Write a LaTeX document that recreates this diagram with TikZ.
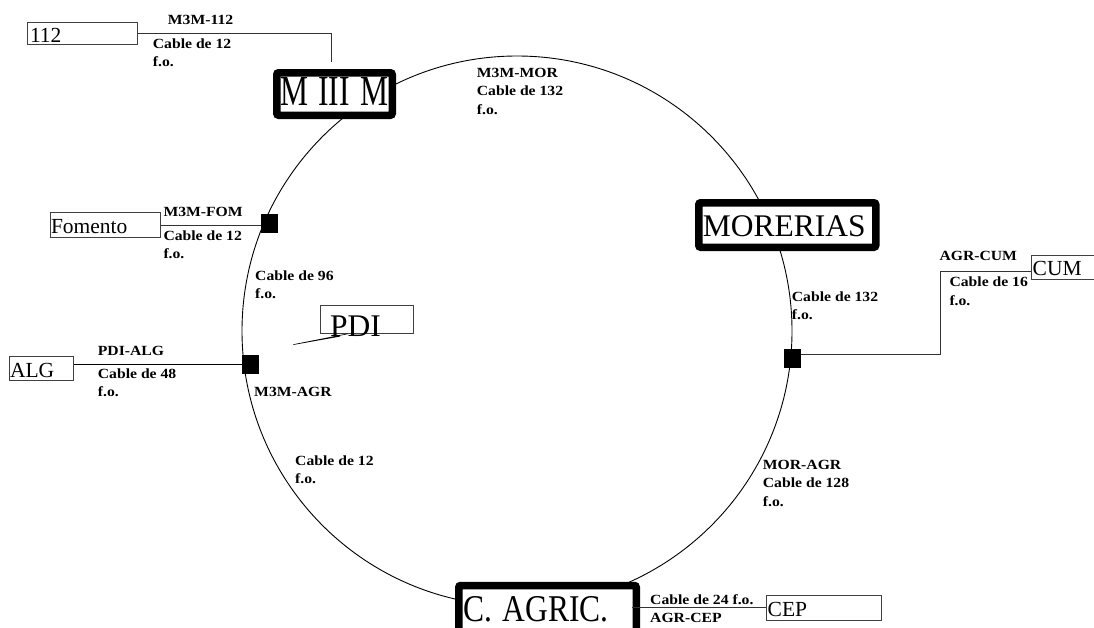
\documentclass[tikz,border=0pt]{standalone}
\usepackage{fontspec}
\setmainfont{Liberation Serif}
\newfontfamily\lblfont[FakeStretch=1.12]{Liberation Serif}
\newcommand{\ml}[1]{\begin{tabular}[t]{@{}l@{}}#1\end{tabular}}
\begin{document}
\begin{tikzpicture}[x=1pt,y=-1pt,
  ring/.style={line width=0.9pt},
  bigbox/.style={draw, line width=7.5pt, rounded corners=2pt, fill=white, inner sep=0pt, align=left, text depth=0pt, font=\fontsize{31.5}{36}\selectfont},
  smallbox/.style={draw=black!75, line width=0.9pt, fill=white, inner sep=0pt, align=left, text depth=0pt, font=\fontsize{21.5}{25}\selectfont},
  sqnode/.style={fill=black, inner sep=0pt, minimum width=17pt, minimum height=19pt},
  lbl/.style={inner sep=0pt, anchor=base west, font=\lblfont\bfseries\fontsize{14}{18.5}\selectfont},
  conn/.style={draw=black!80, line width=0.9pt},
]
\useasboundingbox (0,0) rectangle (1094,627);
\fill[white] (0,0) rectangle (1094,627);

% ring
\draw[ring] (517,331) circle[radius=275];

% main stations
\node[bigbox, minimum width=115.5pt, minimum height=42.5pt, text width=109pt, text height=23.4pt] (m3m) at (334.5,94) {\scalebox{1}[1.36]{M III M}};
\node[bigbox, minimum width=177pt, minimum height=44.5pt, text width=169pt, text height=23.4pt] (mor) at (787.25,225) {MORERIAS};
\node[bigbox, minimum width=177.5pt, minimum height=47pt, text width=168.4pt, text height=25.4pt] (agr) at (547.5,609) {\scalebox{1}[1.2]{C. AGRIC.}};

% PDI
\node[smallbox, font=\fontsize{31.5}{36}\selectfont, minimum width=92.6pt, minimum height=28.3pt, text width=74pt, text height=28pt] (pdi) at (367,319.15) {\raisebox{-3.55pt}{PDI}};

% small boxes
\node[smallbox, minimum width=110pt, minimum height=22.5pt, text width=104pt, text height=18.1pt] (b112) at (82,33.25) {112};
\node[smallbox, minimum width=110.7pt, minimum height=24.6pt, text width=108.7pt, text height=16.6pt] (fom) at (105.35,225) {Fomento};
\node[smallbox, minimum width=64.3pt, minimum height=24.7pt, text width=62.3pt, text height=17.9pt] (alg) at (41.15,368.35) {ALG};
\node[smallbox, minimum width=65.3pt, minimum height=24.3pt, text width=63.3pt, text height=15.7pt] (cum) at (1064.35,267.15) {CUM};
\node[smallbox, minimum width=115pt, minimum height=24.3pt, text width=113pt, text height=17.7pt] (cep) at (824.2,607.85) {CEP};

% splice squares
\node[sqnode] (sqf) at (269.5,223.7) {};
\node[sqnode] (sqa) at (250.3,364.5) {};
\node[sqnode] (sqc) at (792.3,358.8) {};

% connectors
\coordinate (c112) at (331,61.7);
\draw[conn] (b112.east) -| (c112);
\draw[conn] (fom.east) -- (fom.east -| sqf.west);
\draw[conn, draw=black] (sqa.west) -- (sqa.west -| alg.east);
\coordinate (ccum) at (940.7,271.7);
\draw[conn] ([yshift=4.8pt]sqc.east) -| (ccum) -- (ccum -| cum.west);
\draw[conn] ([xshift=-8pt]agr.east |- cep.west) -- (cep.west);
\coordinate (cpdi) at (293.3,344.6);
\draw[line width=0.6pt] (cpdi) -- ([xshift=-19pt]pdi.south)
                        (cpdi) -- ([shift={(-27pt,-2.5pt)}]pdi.south);

% labels
\node[lbl] (l112a) at (167.7,24) {M3M-112};
\node[lbl] (l112b) at (152.7,48) {\ml{Cable de 12\\f.o.}};
\node[lbl] (lmor) at (476.7,77.3) {\ml{M3M-MOR\\Cable de 132\\f.o.}};
\node[lbl] (lfoma) at (163.3,216.7) {M3M-FOM};
\node[lbl] (lfomb) at (163.3,240) {\ml{Cable de 12\\f.o.}};
\node[lbl] (l96) at (255,280) {\ml{Cable de 96\\f.o.}};
\node[lbl] (lalga) at (97.7,355) {PDI-ALG};
\node[lbl] (lalgb) at (97.7,378.3) {\ml{Cable de 48\\f.o.}};
\node[lbl] (lm3magr) at (254,396.7) {M3M-AGR};
\node[lbl] (l12) at (295,465) {\ml{Cable de 12\\f.o.}};
\node[lbl] (lmoragr) at (762.7,469.3) {\ml{MOR-AGR\\Cable de 128\\f.o.}};
\node[lbl] (l132) at (791.7,301) {\ml{Cable de 132\\f.o.}};
\node[lbl] (lcuma) at (939.3,260.7) {AGR-CUM};
\node[lbl] (lcumb) at (949.3,286.7) {\ml{Cable de 16\\f.o.}};
\node[lbl] (lcep) at (650,604) {\ml{Cable de 24 f.o.\\AGR-CEP}};
\end{tikzpicture}
\end{document}
